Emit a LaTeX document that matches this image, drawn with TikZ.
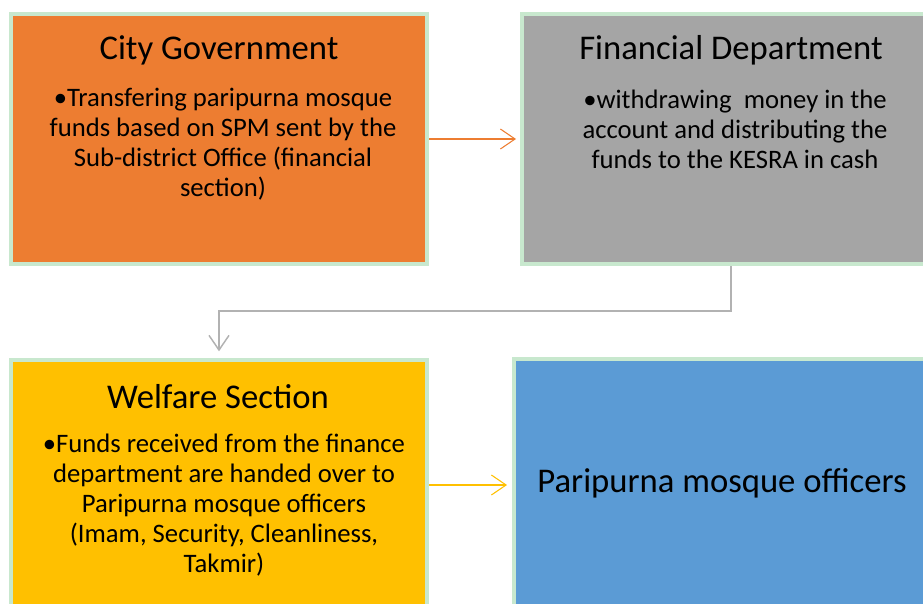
\documentclass[tikz,border=0pt]{standalone}
\usepackage{fontspec}
\setmainfont{Carlito}
\usetikzlibrary{arrows.meta}

\definecolor{cityorange}{RGB}{237,125,49}
\definecolor{fingray}{RGB}{165,165,165}
\definecolor{welfyellow}{RGB}{255,192,0}
\definecolor{offblue}{RGB}{91,155,213}
\definecolor{edgegreen}{RGB}{200,232,206}
\definecolor{linkgray}{RGB}{178,178,178}

\tikzset{
  box/.style={draw=edgegreen,line width=3pt,minimum width=312pt,minimum height=187.5pt,inner sep=0pt},
  title/.style={font=\fontsize{26}{31}\selectfont},
  body/.style={align=center,inner sep=0pt,font=\fontsize{20}{22.5}\selectfont},
  >={Straight Barb[length=11pt,width=15pt]}
}

\begin{document}
\begin{tikzpicture}[x=0.75pt,y=-0.75pt]
\useasboundingbox (0,0) rectangle (923,603);
\node [box,fill=cityorange] (city) at (219,139) {};
\node [box,fill=fingray,minimum width=313.5pt] (fin) at (731,139) {};
\node [box,fill=welfyellow] (welfare) at (219,485) {};
\node [box,fill=offblue] (officers) at (722,484) {};
\draw [->,cityorange,line width=0.8pt,shorten >=3pt] (city.east) -- (fin.west);
\draw [->,linkgray,line width=1.1pt,shorten >=5pt] (fin.south) -- ++(0,45) -| (welfare.north);
\draw [->,welfyellow,line width=0.8pt,shorten >=3.75pt] (welfare.east) -- (welfare.east -| officers.west);
\node [title] (citytitle) at (219,50) {City Government};
\node [body] (citytext) at (223,144) {•Transfering paripurna mosque\\funds based on SPM sent by the\\Sub-district Office (financial\\section)};
\node [title] (fintitle) at (731,50) {Financial Department};
\node [body] (fintext) at (735,129) {•withdrawing~ money in the\\account and distributing the\\funds to the KESRA in cash};
\node [title] (welftitle) at (218,397) {Welfare Section};
\node [body] (welftext) at (224,505) {•Funds received from the finance\\department are handed over to\\Paripurna mosque officers\\(Imam, Security, Cleanliness,\\Takmir)};
\node [title] (offtext) at (722,483) {Paripurna mosque officers};
\end{tikzpicture}
\end{document}
